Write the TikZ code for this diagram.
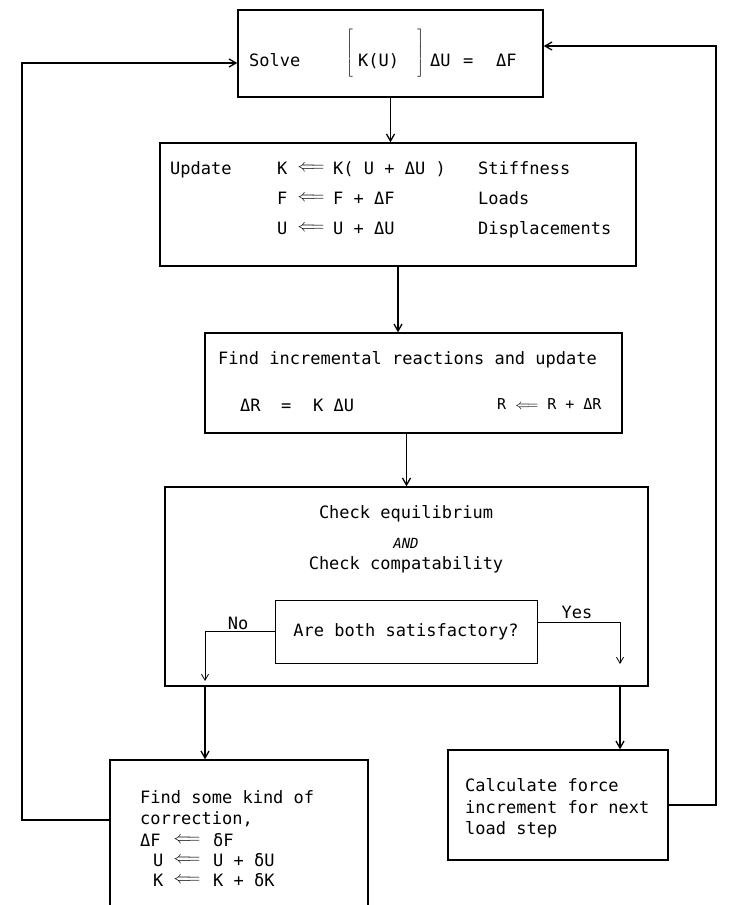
\documentclass[tikz,border=0pt]{standalone}
\usepackage{fontspec}
\setmainfont{DejaVu Sans Mono}
\usetikzlibrary{arrows.meta}
\begin{document}
\begin{tikzpicture}[x=1pt,y=-1pt,
  font=\fontsize{17}{20}\selectfont,
  bx/.style={draw=black, line width=1.4pt, inner sep=0pt},
  ibox/.style={draw=black, line width=0.8pt, inner sep=0pt},
  conn/.style={draw=black, line width=1.3pt, -{Straight Barb[length=7pt,width=8pt]}},
  lnk/.style={draw=black, line width=0.8pt, -{Straight Barb[length=6pt,width=7pt]}},
  t/.style={anchor=base west, inner sep=0pt},
  tc/.style={anchor=base, inner sep=0pt},
  ar/.style={anchor=center, inner sep=0pt}]
\clip (0,0) rectangle (731,905);
\fill[white] (0,0) rectangle (731,905);

% boxes
\node[bx, minimum width=305pt, minimum height=87pt] (solve) at (390.5,53.5) {};
\node[bx, minimum width=476pt, minimum height=123pt] (update) at (398,204.5) {};
\node[bx, minimum width=417pt, minimum height=100pt] (find) at (413.5,383) {};
\node[bx, minimum width=483pt, minimum height=199pt] (check) at (406.5,586.5) {};
\node[ibox, minimum width=262pt, minimum height=63pt] (ask) at (406,631.5) {};
\node[bx, minimum width=258pt, minimum height=180pt] (corr) at (239,850) {};
\node[bx, minimum width=220pt, minimum height=110pt] (calc) at (558,805) {};

% solve text
\node[t] (s1) at (249,66) {Solve};
\node[ar] (s2) at (350,54) {$\left[\vrule height 24pt depth 22pt width 0pt\right.$};
\node[t] (s3) at (358,66) {K(U)};
\node[ar] (s4) at (420,54) {$\left.\vrule height 24pt depth 22pt width 0pt\right]$};
\node[t] (s5) at (430,66) {ΔU};
\node[t] (s6) at (463,66) {=};
\node[t] (s7) at (496,66) {ΔF};

% update text
\node[t] (u0) at (170,174) {Update};
\node[t] (u1) at (277,174) {K};
\node[ar] (u1a) at (311,168) {$\Longleftarrow$};
\node[t] (u1b) at (333,174) {K( U + ΔU )};
\node[t] (u1c) at (478,174) {Stiffness};
\node[t] (u2) at (277,204) {F};
\node[ar] (u2a) at (311,198) {$\Longleftarrow$};
\node[t] (u2b) at (333,204) {F + ΔF};
\node[t] (u2c) at (478,204) {Loads};
\node[t] (u3) at (277,234) {U};
\node[ar] (u3a) at (311,228) {$\Longleftarrow$};
\node[t] (u3b) at (333,234) {U + ΔU};
\node[t] (u3c) at (478,234) {Displacements};

% find text
\node[t] (f1) at (218,364) {Find incremental reactions and update};
\node[t] (f2) at (240,411) {ΔR};
\node[t] (f3) at (281,411) {=};
\node[t] (f4) at (313,411) {K ΔU};
\node[t, font=\fontsize{15}{18}\selectfont] (f5) at (497,409) {R $\Longleftarrow$ R + ΔR};

% check text
\node[tc] (c1) at (406,518) {Check equilibrium};
\node[tc, font=\fontsize{14}{16}\selectfont\itshape] (c2) at (406,548) {AND};
\node[tc] (c3) at (406,569) {Check compatability};
\node[tc] (c4) at (406,636) {Are both satisfactory?};
\node[tc] (no) at (238,629) {No};
\node[tc] (yes) at (577,618) {Yes};

% correction text
\node[t] (k1) at (140,803) {Find some kind of};
\node[t] (k2) at (140,824) {correction,};
\node[t] (k3) at (140,846) {ΔF};
\node[ar] (k3a) at (187,840) {$\Longleftarrow$};
\node[t] (k3b) at (213,846) {δF};
\node[t] (k4) at (153,866) {U};
\node[ar] (k4a) at (187,860) {$\Longleftarrow$};
\node[t] (k4b) at (213,866) {U + δU};
\node[t] (k5) at (153,886) {K};
\node[ar] (k5a) at (187,880) {$\Longleftarrow$};
\node[t] (k5b) at (213,886) {K + δK};

% calc text
\node[t] (q1) at (465,791) {Calculate force};
\node[t] (q2) at (465,813) {increment for next};
\node[t] (q3) at (465,834) {load step};

% helper coordinates
\coordinate (nx) at (205,0);
\coordinate (yx) at (620,0);
\coordinate (notip) at (205,681);
\coordinate (yestip) at (620,664);
\coordinate (yesy) at (0,622);
\coordinate (Lx) at (22,0);
\coordinate (Rx) at (716,0);
\coordinate (sl) at ([yshift=-9.5pt]solve.west);
\coordinate (sr) at ([yshift=7.5pt]solve.east);
\coordinate (cl) at ([yshift=30pt]corr.west);

% connectors
\draw[conn] (solve.south) -- (solve.south |- update.north);
\draw[conn] (update.south) -- (update.south |- find.north);
\draw[conn] (check.north |- find.south) -- (check.north);
\draw[lnk] (ask.west) -| (notip);
\draw[lnk] (ask.east |- yesy) -| (yestip);
\draw[conn] (nx |- check.south) -- (nx |- corr.north);
\draw[conn] (yx |- check.south) -- (yx |- calc.north);
\draw[conn] (cl) -- (cl -| Lx) -- (Lx |- sl) -- (sl);
\draw[conn] (calc.east) -- (calc.east -| Rx) -- (Rx |- sr) -- (sr);
\end{tikzpicture}
\end{document}
